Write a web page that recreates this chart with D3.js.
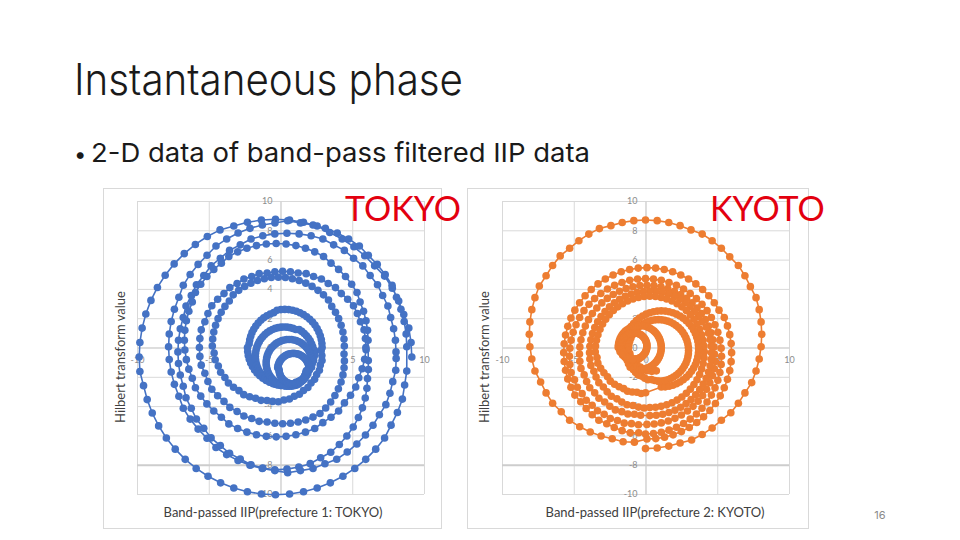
<!DOCTYPE html>
<html>
<head>
<meta charset="utf-8">
<script src="https://cdn.jsdelivr.net/npm/d3@7"></script>
<style>
  html, body { margin: 0; padding: 0; background: #fff; }
  svg { display: block; }
</style>
</head>
<body>
<svg id="slide" width="960" height="540"></svg>
<script>
// axis ticks (same for both prefectures)
const xTicks = [-10, -5, 0, 5, 10];
const yTicks = [-10, -8, -6, -4, -2, 0, 2, 4, 6, 8, 10];

// phase advances by a fixed step between samples; one row of amplitudes per turn
const phaseStepDeg = 6;

// TOKYO: local centre of each turn and amplitude of each sample
const tokyoStartDeg = 0;
const tokyoCenterX = [-0.35, 0.5, 0.45, -0.3, 0.15, -0.15, 0.3, 0.25, 0.6, 0.9];
const tokyoCenterY = [-0.65, 0.05, -0.3, 0.5, 0, 0.1, 0, -0.6, -1.05, -1.5];
const tokyoAmp = [
  [9.5, 9.5, 9.5, 9.4, 9.4, 9.4, 9.4, 9.3, 9.3, 9.3, 9.3, 9.3, 9.4, 9.4, 9.4,
   9.4, 9.4, 9.4, 9.4, 9.5, 9.5, 9.5, 9.5, 9.5, 9.5, 9.5, 9.5, 9.5, 9.5, 9.5,
   9.5, 9.5, 9.4, 9.4, 9.4, 9.4, 9.4, 9.4, 9.4, 9.4, 9.4, 9.4, 9.4, 9.4, 9.4,
   9.4, 9.4, 9.4, 9.4, 9.4, 9.4, 9.4, 9.4, 9.4, 9.4, 9.3, 9.3, 9.3, 9.2, 9.2],
  [8.3, 8.3, 8.3, 8.3, 8.3, 8.4, 8.4, 8.4, 8.4, 8.5, 8.5, 8.5, 8.5, 8.5, 8.5,
   8.6, 8.5, 8.5, 8.5, 8.5, 8.5, 8.5, 8.4, 8.4, 8.4, 8.4, 8.3, 8.3, 8.3, 8.3,
   8.3, 8.3, 8.3, 8.3, 8.3, 8.4, 8.4, 8.4, 8.4, 8.5, 8.5, 8.5, 8.5, 8.5, 8.5,
   8.6, 8.5, 8.5, 8.4, 8.4, 8.3, 8.2, 8.1, 8.0, 7.9, 7.9, 7.8, 7.7, 7.7, 7.6],
  [7.6, 7.6, 7.6, 7.6, 7.7, 7.7, 7.8, 7.8, 7.9, 7.9, 8.0, 8.0, 8.1, 8.1, 8.1,
   8.1, 8.1, 8.1, 8.1, 8.0, 8.0, 7.9, 7.9, 7.8, 7.8, 7.7, 7.7, 7.6, 7.6, 7.6,
   7.6, 7.6, 7.6, 7.6, 7.7, 7.7, 7.8, 7.8, 7.9, 7.9, 8.0, 8.0, 8.1, 8.1, 8.1,
   8.0, 7.9, 7.8, 7.6, 7.5, 7.3, 7.1, 6.9, 6.7, 6.5, 6.3, 6.1, 5.9, 5.8, 5.7],
  [6.4, 6.4, 6.4, 6.4, 6.4, 6.5, 6.5, 6.5, 6.5, 6.5, 6.6, 6.6, 6.6, 6.6, 6.6,
   6.6, 6.6, 6.6, 6.6, 6.6, 6.6, 6.5, 6.5, 6.5, 6.5, 6.5, 6.4, 6.4, 6.4, 6.4,
   6.4, 6.4, 6.4, 6.4, 6.4, 6.5, 6.5, 6.5, 6.5, 6.5, 6.6, 6.6, 6.6, 6.6, 6.6,
   6.6, 6.6, 6.6, 6.6, 6.6, 6.5, 6.5, 6.5, 6.4, 6.4, 6.4, 6.3, 6.3, 6.3, 6.3],
  [5.8, 5.8, 5.8, 5.7, 5.7, 5.7, 5.6, 5.5, 5.5, 5.4, 5.4, 5.3, 5.3, 5.2, 5.2,
   5.2, 5.2, 5.2, 5.3, 5.3, 5.4, 5.4, 5.5, 5.5, 5.6, 5.7, 5.7, 5.7, 5.8, 5.8,
   5.8, 5.8, 5.8, 5.7, 5.7, 5.7, 5.6, 5.5, 5.5, 5.4, 5.4, 5.3, 5.3, 5.2, 5.2,
   5.2, 5.2, 5.2, 5.2, 5.2, 5.2, 5.1, 5.0, 4.9, 4.8, 4.7, 4.6, 4.5, 4.4, 4.3],
  [4.6, 4.6, 4.6, 4.6, 4.6, 4.6, 4.6, 4.7, 4.7, 4.7, 4.7, 4.7, 4.7, 4.7, 4.7,
   4.7, 4.7, 4.7, 4.7, 4.7, 4.7, 4.7, 4.7, 4.6, 4.6, 4.6, 4.6, 4.6, 4.6, 4.6,
   4.6, 4.5, 4.5, 4.4, 4.4, 4.3, 4.3, 4.2, 4.1, 4.1, 4.0, 3.9, 3.9, 3.8, 3.8,
   3.8, 3.7, 3.7, 3.6, 3.6, 3.5, 3.5, 3.4, 3.4, 3.3, 3.3, 3.2, 3.2, 3.1, 3.0],
  [2.6, 2.6, 2.6, 2.6, 2.6, 2.6, 2.6, 2.6, 2.6, 2.6, 2.6, 2.6, 2.6, 2.6, 2.6,
   2.6, 2.6, 2.6, 2.5, 2.5, 2.5, 2.5, 2.5, 2.5, 2.5, 2.5, 2.5, 2.5, 2.5, 2.5,
   2.6, 2.6, 2.6, 2.6, 2.6, 2.6, 2.6, 2.6, 2.6, 2.6, 2.6, 2.6, 2.6, 2.6, 2.6,
   2.6, 2.6, 2.6, 2.5, 2.5, 2.5, 2.4, 2.4, 2.3, 2.3, 2.2, 2.2, 2.1, 2.1, 2.1],
  [2.1, 2.1, 2.1, 2.1, 2.1, 2.1, 2.1, 2.1, 2.1, 2.1, 2.1, 2.0, 2.0, 2.0, 2.0,
   2.0, 2.0, 2.0, 2.0, 2.0, 2.0, 2.0, 2.0, 2.0, 2.0, 2.0, 2.0, 2.0, 2.0, 2.0,
   2.0, 2.0, 2.0, 2.0, 2.0, 2.0, 2.0, 2.0, 2.0, 2.0, 2.0, 2.0, 2.0, 2.0, 2.0,
   2.0, 2.0, 2.0, 2.0, 2.0, 2.0, 2.0, 2.0, 2.0, 2.0, 1.9, 1.9, 1.9, 1.9, 1.9],
  [1.6, 1.6, 1.6, 1.6, 1.6, 1.6, 1.6, 1.6, 1.6, 1.6, 1.6, 1.6, 1.6, 1.6, 1.6,
   1.6, 1.6, 1.6, 1.6, 1.6, 1.6, 1.6, 1.6, 1.6, 1.6, 1.6, 1.6, 1.6, 1.6, 1.6,
   1.6, 1.6, 1.6, 1.6, 1.6, 1.6, 1.6, 1.6, 1.6, 1.6, 1.6, 1.6, 1.6, 1.6, 1.6,
   1.6, 1.6, 1.6, 1.6, 1.6, 1.5, 1.5, 1.5, 1.5, 1.5, 1.4, 1.4, 1.4, 1.4, 1.4],
  [1.1, 1.1, 1.1, 1.1, 1.1, 1.1, 1.1, 1.1, 1.1, 1.1, 1.1, 1.1, 1.1, 1.1, 1.1,
   1.1, 1.1, 1.1, 1.1, 1.1, 1.1, 1.1, 1.1, 1.1, 1.1, 1.1, 1.1, 1.1, 1.1, 1.1,
   1.0, 1.0, 1.0, 1.0, 1.0, 1.0, 1.0, 1.0, 1.0, 1.0, 1.0, 1.0, 1.0, 1.0, 1.0,
   1.0, 1.0, 1.0, 1.0, 1.0, 1.0, 1.0, 1.0, 1.0, 1.0, 0.9, 0.9, 0.9, 0.9, 0.9]
];

// KYOTO: turns start at the bottom of each loop
const kyotoStartDeg = -90;
const kyotoCenterX = [0, 0.1, 0, 0.1, 0.3, 0.3, 1.1, 0.9, -0.4, -0.8];
const kyotoCenterY = [0.9, -0.35, -0.6, -0.45, -0.35, -0.3, -0.1, -0.2, 0, 0.1];
const kyotoAmp = [
  [7.8, 7.8, 7.8, 7.8, 7.9, 7.9, 7.9, 7.9, 8.0, 8.0, 8.0, 8.1, 8.1, 8.1, 8.1,
   8.1, 8.1, 8.1, 8.1, 8.0, 8.0, 8.0, 7.9, 7.9, 7.9, 7.9, 7.8, 7.8, 7.8, 7.8,
   7.8, 7.8, 7.8, 7.8, 7.9, 7.9, 7.9, 7.9, 8.0, 8.0, 8.0, 8.1, 8.1, 8.1, 8.1,
   8.1, 8.1, 8.1, 8.1, 8.0, 8.0, 8.0, 7.9, 7.9, 7.8, 7.7, 7.6, 7.5, 7.5, 7.4],
  [5.9, 5.9, 5.9, 5.9, 5.9, 5.9, 5.9, 5.9, 5.9, 5.9, 5.9, 5.9, 5.9, 5.9, 5.9,
   5.9, 5.9, 5.9, 5.9, 5.9, 5.8, 5.8, 5.8, 5.8, 5.8, 5.8, 5.8, 5.8, 5.8, 5.8,
   5.8, 5.8, 5.8, 5.8, 5.8, 5.8, 5.8, 5.8, 5.8, 5.8, 5.8, 5.8, 5.8, 5.8, 5.8,
   5.8, 5.8, 5.8, 5.8, 5.8, 5.8, 5.7, 5.7, 5.7, 5.7, 5.6, 5.6, 5.6, 5.6, 5.5],
  [5.3, 5.3, 5.3, 5.3, 5.3, 5.3, 5.3, 5.3, 5.3, 5.3, 5.3, 5.3, 5.3, 5.3, 5.3,
   5.3, 5.3, 5.3, 5.3, 5.3, 5.3, 5.3, 5.3, 5.3, 5.3, 5.3, 5.3, 5.3, 5.3, 5.3,
   5.3, 5.3, 5.3, 5.3, 5.3, 5.3, 5.3, 5.3, 5.3, 5.3, 5.3, 5.3, 5.3, 5.3, 5.3,
   5.3, 5.3, 5.3, 5.2, 5.2, 5.1, 5.1, 5.0, 5.0, 4.9, 4.9, 4.8, 4.8, 4.7, 4.7],
  [4.8, 4.8, 4.8, 4.8, 4.8, 4.8, 4.8, 4.8, 4.8, 4.8, 4.8, 4.8, 4.8, 4.8, 4.8,
   4.7, 4.7, 4.7, 4.7, 4.7, 4.7, 4.7, 4.7, 4.7, 4.7, 4.7, 4.7, 4.7, 4.7, 4.7,
   4.7, 4.7, 4.7, 4.7, 4.7, 4.7, 4.7, 4.7, 4.7, 4.7, 4.7, 4.7, 4.7, 4.7, 4.7,
   4.7, 4.7, 4.7, 4.6, 4.6, 4.6, 4.5, 4.5, 4.4, 4.4, 4.4, 4.3, 4.3, 4.2, 4.2],
  [4.3, 4.3, 4.3, 4.3, 4.3, 4.3, 4.3, 4.3, 4.3, 4.3, 4.3, 4.3, 4.3, 4.3, 4.3,
   4.3, 4.3, 4.3, 4.3, 4.3, 4.2, 4.2, 4.2, 4.2, 4.2, 4.2, 4.2, 4.2, 4.2, 4.2,
   4.2, 4.2, 4.2, 4.2, 4.2, 4.2, 4.2, 4.2, 4.2, 4.2, 4.2, 4.2, 4.2, 4.2, 4.2,
   4.2, 4.2, 4.2, 4.1, 4.1, 4.1, 4.0, 4.0, 4.0, 3.9, 3.9, 3.9, 3.8, 3.8, 3.8],
  [3.8, 3.8, 3.8, 3.8, 3.8, 3.8, 3.8, 3.8, 3.8, 3.8, 3.8, 3.8, 3.8, 3.8, 3.8,
   3.8, 3.8, 3.8, 3.8, 3.8, 3.8, 3.8, 3.8, 3.8, 3.8, 3.8, 3.8, 3.8, 3.8, 3.8,
   3.8, 3.8, 3.8, 3.8, 3.8, 3.8, 3.8, 3.8, 3.8, 3.8, 3.8, 3.8, 3.8, 3.8, 3.8,
   3.8, 3.7, 3.7, 3.6, 3.5, 3.4, 3.4, 3.3, 3.2, 3.1, 3.1, 3.0, 2.9, 2.9, 2.8],
  [2.6, 2.6, 2.6, 2.6, 2.6, 2.6, 2.6, 2.6, 2.6, 2.6, 2.6, 2.6, 2.6, 2.6, 2.6,
   2.6, 2.6, 2.6, 2.6, 2.6, 2.6, 2.6, 2.6, 2.6, 2.6, 2.6, 2.6, 2.6, 2.6, 2.6,
   2.6, 2.6, 2.6, 2.6, 2.6, 2.6, 2.6, 2.6, 2.6, 2.6, 2.6, 2.6, 2.6, 2.6, 2.6,
   2.6, 2.6, 2.6, 2.5, 2.5, 2.5, 2.4, 2.4, 2.4, 2.3, 2.3, 2.3, 2.2, 2.2, 2.2],
  [2.1, 2.1, 2.1, 2.1, 2.1, 2.1, 2.1, 2.1, 2.1, 2.1, 2.1, 2.1, 2.1, 2.1, 2.1,
   2.1, 2.1, 2.1, 2.1, 2.1, 2.1, 2.1, 2.1, 2.1, 2.1, 2.1, 2.1, 2.1, 2.1, 2.1,
   2.1, 2.1, 2.1, 2.1, 2.1, 2.1, 2.1, 2.1, 2.1, 2.1, 2.1, 2.1, 2.1, 2.1, 2.1,
   2.1, 2.0, 2.0, 1.9, 1.9, 1.8, 1.8, 1.7, 1.7, 1.6, 1.6, 1.5, 1.5, 1.4, 1.4],
  [1.5, 1.5, 1.5, 1.5, 1.5, 1.5, 1.5, 1.5, 1.5, 1.5, 1.5, 1.5, 1.5, 1.5, 1.5,
   1.5, 1.5, 1.5, 1.5, 1.5, 1.5, 1.5, 1.5, 1.5, 1.5, 1.5, 1.5, 1.5, 1.5, 1.5,
   1.5, 1.5, 1.5, 1.5, 1.5, 1.5, 1.5, 1.5, 1.5, 1.5, 1.5, 1.5, 1.5, 1.5, 1.5,
   1.5, 1.4, 1.4, 1.3, 1.3, 1.2, 1.2, 1.1, 1.1, 1.0, 1.0, 0.9, 0.9, 0.8, 0.8],
  [0.9, 0.9, 0.9, 0.9, 0.9, 0.9, 0.9, 0.9, 0.9, 0.9, 0.9, 0.9, 0.9, 0.9, 0.9,
   0.9, 0.9, 0.9, 0.9, 0.9, 0.9, 0.9, 0.9, 0.9, 0.9, 0.9, 0.9, 0.9, 0.9, 0.9,
   0.9, 0.9, 0.9, 0.9, 0.9, 0.9, 0.9, 0.9, 0.9, 0.9, 0.9, 0.9, 0.9, 0.9, 0.9,
   0.9, 0.9, 0.9, 0.9, 0.9, 0.9, 0.9, 0.9, 0.9, 0.9, 0.9, 0.9, 0.9, 0.9, 0.9]
];

const charts = [
  {
    name: 'TOKYO', color: '#4472C4', labelX: 345,
    frame: {x: 103, y: 188, w: 338, h: 340},
    plot: {left: 137, right: 424, top: 201, bottom: 494},
    yTitleX: 125, xTitleX: 273,
    xTitle: 'Band-passed IIP(prefecture 1: TOKYO)',
    centerX: tokyoCenterX, centerY: tokyoCenterY, amp: tokyoAmp, startDeg: tokyoStartDeg
  },
  {
    name: 'KYOTO', color: '#ED7D31', labelX: 710,
    frame: {x: 467, y: 188, w: 341, h: 340},
    plot: {left: 502, right: 789, top: 201, bottom: 494},
    yTitleX: 489, xTitleX: 655,
    xTitle: 'Band-passed IIP(prefecture 2: KYOTO)',
    centerX: kyotoCenterX, centerY: kyotoCenterY, amp: kyotoAmp, startDeg: kyotoStartDeg
  }
];

const svg = d3.select('#slide');
const chartFont = 'Lato, "Open Sans", sans-serif';
const slideFont = 'Inter, "Noto Sans CJK JP", sans-serif';

// centre + amplitude at a phase -> data coordinates
function buildPoints(c) {
  const points = [];
  c.amp.forEach((turn, i) => {
    turn.forEach((a, k) => {
      const phase = (c.startDeg + k * phaseStepDeg) * Math.PI / 180;
      points.push({x: c.centerX[i] + a * Math.cos(phase), y: c.centerY[i] + a * Math.sin(phase)});
    });
  });
  return points;
}

function drawHeader() {
  svg.append('text')
    .attr('x', 74).attr('y', 95)
    .attr('font-family', slideFont)
    .attr('font-weight', 300)
    .attr('font-size', '44px')
    .attr('fill', '#1a1a1a')
    .attr('textLength', 389)
    .attr('lengthAdjust', 'spacingAndGlyphs')
    .text('Instantaneous phase');

  svg.append('text')
    .attr('x', 74).attr('y', 162)
    .attr('font-family', slideFont)
    .attr('font-size', '22px')
    .attr('fill', '#1a1a1a')
    .text('•');

  svg.append('text')
    .attr('x', 91).attr('y', 162)
    .attr('font-family', slideFont)
    .attr('font-weight', 400)
    .attr('font-size', '26px')
    .attr('fill', '#1a1a1a')
    .attr('textLength', 499)
    .attr('lengthAdjust', 'spacingAndGlyphs')
    .text('2-D data of band-pass filtered IIP data');

  svg.append('text')
    .attr('x', 880).attr('y', 519)
    .attr('text-anchor', 'middle')
    .attr('font-family', slideFont)
    .attr('font-size', '11px')
    .attr('fill', '#8a8a8a')
    .text('16');
}

function drawChart(c) {
  const g = svg.append('g').attr('class', 'chart-' + c.name.toLowerCase());

  g.append('rect')
    .attr('x', c.frame.x + 0.5).attr('y', c.frame.y + 0.5)
    .attr('width', c.frame.w).attr('height', c.frame.h)
    .attr('fill', '#fff')
    .attr('stroke', '#d9d9d9');

  const xScale = d3.scaleLinear().domain([-10, 10]).range([c.plot.left, c.plot.right]);
  const yScale = d3.scaleLinear().domain([-10, 10]).range([c.plot.bottom, c.plot.top]);

  // gridlines
  g.append('g')
    .attr('id', 'x-grid')
    .attr('transform', `translate(0,${c.plot.bottom})`)
    .call(d3.axisBottom(xScale).tickValues(xTicks).tickSize(-(c.plot.bottom - c.plot.top)).tickFormat(''))
    .call(sel => sel.select('.domain').remove())
    .call(sel => sel.selectAll('line').attr('stroke', '#d9d9d9'));

  g.append('g')
    .attr('id', 'y-grid')
    .attr('transform', `translate(${c.plot.left},0)`)
    .call(d3.axisLeft(yScale).tickValues(yTicks).tickSize(-(c.plot.right - c.plot.left)).tickFormat(''))
    .call(sel => sel.select('.domain').remove())
    .call(sel => sel.selectAll('line')
      .attr('stroke', d => d === -8 ? '#cdcdcd' : '#d9d9d9')
      .attr('stroke-width', d => d === -8 ? 2 : 1));

  // axes cross at zero, labels sit next to the axis
  const xAxis = g.append('g')
    .attr('id', 'x-axis')
    .attr('transform', `translate(0,${yScale(0)})`)
    .call(d3.axisBottom(xScale).tickValues(xTicks).tickSize(0).tickPadding(9).tickFormat(d => String(d)));
  xAxis.select('.domain').attr('stroke', '#cfcfcf');

  const yAxis = g.append('g')
    .attr('id', 'y-axis')
    .attr('transform', `translate(${xScale(0)},0)`)
    .call(d3.axisLeft(yScale).tickValues(yTicks).tickSize(0).tickPadding(8).tickFormat(d => String(d)));
  yAxis.select('.domain').attr('stroke', '#cfcfcf');

  g.selectAll('#x-axis text, #y-axis text')
    .attr('font-family', chartFont)
    .attr('font-size', '9px')
    .attr('fill', '#8c8c8c');

  // trajectory
  const points = buildPoints(c);
  const line = d3.line().x(d => xScale(d.x)).y(d => yScale(d.y));

  g.append('path')
    .datum(points)
    .attr('fill', 'none')
    .attr('stroke', c.color)
    .attr('stroke-width', 1.6)
    .attr('d', line);

  g.append('g')
    .attr('id', 'markers')
    .attr('fill', c.color)
    .selectAll('circle')
    .data(points)
    .join('circle')
    .attr('cx', d => xScale(d.x))
    .attr('cy', d => yScale(d.y))
    .attr('r', 3.8);

  // axis titles
  g.append('text')
    .attr('transform', `translate(${c.yTitleX},357) rotate(-90)`)
    .attr('text-anchor', 'middle')
    .attr('font-family', chartFont)
    .attr('font-size', '13px')
    .attr('fill', '#404040')
    .text('Hilbert transform value');

  g.append('text')
    .attr('x', c.xTitleX).attr('y', 517)
    .attr('text-anchor', 'middle')
    .attr('font-family', chartFont)
    .attr('font-size', '13px')
    .attr('fill', '#404040')
    .text(c.xTitle);

  // big red prefecture label
  svg.append('text')
    .attr('x', c.labelX).attr('y', 221)
    .attr('font-family', chartFont)
    .attr('font-size', '34px')
    .attr('fill', '#e3000f')
    .text(c.name);
}

drawHeader();
charts.forEach(c => drawChart(c));
</script>
</body>
</html>
